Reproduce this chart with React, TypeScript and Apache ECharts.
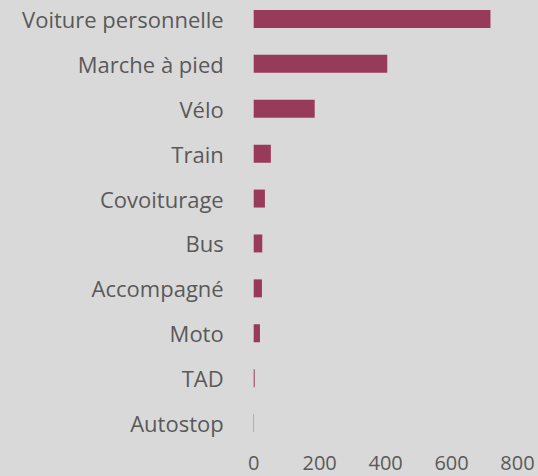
import React, { useEffect, useRef } from "react";
import * as echarts from "echarts";

const categories = [
  "Voiture personnelle",
  "Marche à pied",
  "Vélo",
  "Train",
  "Covoiturage",
  "Bus",
  "Accompagné",
  "Moto",
  "TAD",
  "Autostop",
];
const values = [718, 405, 185, 52, 34, 26, 25, 19, 3, 1];
const xTicks = { min: 0, max: 800, interval: 200 };

export default function App() {
  const ref = useRef<HTMLDivElement>(null);
  useEffect(() => {
    if (!ref.current) return;
    const chart = echarts.init(ref.current, null, { renderer: "svg" });
    chart.setOption({
      animation: false,
      backgroundColor: "#d9d9d9",
      grid: {
        left: 253.7,
        right: 20.5,
        top: -3.5,
        bottom: 30.5,
        containLabel: false,
        outerBoundsMode: "none",
      },
      xAxis: {
        type: "value",
        min: xTicks.min,
        max: xTicks.max,
        interval: xTicks.interval,
        splitLine: { show: false },
        axisLine: { show: false },
        axisTick: { show: false },
        axisLabel: {
          color: "#595959",
          fontSize: 20,
          fontFamily: "Open Sans",
          margin: 7,
        },
      },
      yAxis: {
        type: "category",
        data: categories,
        inverse: true,
        axisLine: { show: false },
        axisTick: { show: false },
        axisLabel: {
          color: "#595959",
          fontSize: 22,
          fontFamily: "Open Sans",
          margin: 30,
        },
      },
      series: [
        {
          type: "bar",
          data: values,
          barCategoryGap: "60%",
          itemStyle: { color: "#983a5a" },
        },
      ],
    });
    return () => chart.dispose();
  }, []);
  return (
    <div
      ref={ref}
      style={{ position: "fixed", left: 0, top: 0, width: 538, height: 476 }}
    />
  );
}
